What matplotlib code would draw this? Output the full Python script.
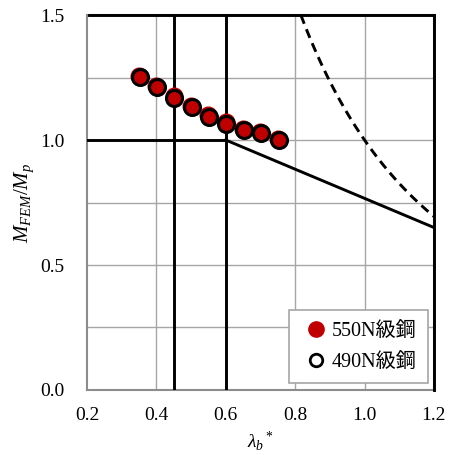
import matplotlib
matplotlib.use("Agg")
import matplotlib.pyplot as plt
import numpy as np

plt.rcParams['font.family'] = ['Liberation Serif', 'Noto Sans CJK JP']
plt.rcParams['mathtext.fontset'] = 'custom'
plt.rcParams['mathtext.rm'] = 'Liberation Serif'
plt.rcParams['mathtext.it'] = 'Liberation Serif:italic'

# data
lam_550 = [0.35, 0.40, 0.45, 0.50, 0.55, 0.60, 0.65, 0.70, 0.75]
m_550 = [1.258, 1.216, 1.175, 1.135, 1.099, 1.071, 1.046, 1.031, 1.006]
lam_490 = [0.352, 0.402, 0.452, 0.502, 0.552, 0.602, 0.652, 0.702, 0.752]
m_490 = [1.254, 1.212, 1.170, 1.131, 1.094, 1.066, 1.042, 1.027, 1.002]

plateau_x = [0.2, 0.6]
plateau_y = [1.0, 1.0]
slope_x = [0.6, 1.2]
slope_y = [1.0, 0.65]
vlines_x = [0.45, 0.6]
elastic_lam = np.linspace(1/np.sqrt(1.5), 1.2, 100)
elastic_m = 1.0 / elastic_lam**2

fig = plt.figure(figsize=(4.52, 4.55), dpi=100)
ax = fig.add_axes([0.1925, 0.1429, 0.7675, 0.824])
ax.set_xlim(0.2, 1.2)
ax.set_ylim(0.0, 1.5)

for x in [0.4, 0.6, 0.8, 1.0]:
    ax.axvline(x, color='#a6a6a6', lw=1.0, zorder=1)
for y in [0.25, 0.5, 0.75, 1.0, 1.25]:
    ax.axhline(y, color='#a6a6a6', lw=1.0, zorder=1)

for s in ax.spines.values():
    s.set_color('#8c8c8c')
    s.set_linewidth(1.5)

lw = 2.1
ax.plot([0.205, 1.2], [1.5, 1.5], color='black', lw=lw, zorder=3, clip_on=False)
ax.plot([1.2, 1.2], [0.0, 1.5], color='black', lw=lw, zorder=3, clip_on=False)
for x in vlines_x:
    ax.plot([x, x], [0.0, 1.5], color='black', lw=lw, zorder=3)
ax.plot(plateau_x, plateau_y, color='black', lw=lw, zorder=3)
ax.plot(slope_x, slope_y, color='black', lw=lw, zorder=3)
ax.plot(elastic_lam, elastic_m, color='black', lw=lw, ls=(0, (3.2, 2.0)), zorder=3)

ax.plot(lam_550, m_550, 'o', ms=11.5, mfc='#c00000', mec='#c00000', mew=1.5,
        zorder=4, label='550N級鋼', ls='none')
ax.plot(lam_490, m_490, 'o', ms=11.5, mfc='none', mec='black', mew=2.2,
        zorder=5, label='490N級鋼', ls='none')

ax.set_xticks([0.2, 0.4, 0.6, 0.8, 1.0, 1.2])
ax.set_xticklabels(['0.2', '0.4', '0.6', '0.8', '1.0', '1.2'])
ax.set_yticks([0.0, 0.5, 1.0, 1.5])
ax.set_yticklabels(['0.0', '0.5', '1.0', '1.5'])
ax.tick_params(length=0, labelsize=14, colors='black')
ax.tick_params(axis='x', pad=12)
ax.tick_params(axis='y', pad=16)

ax.set_xlabel(r'$\lambda_b$$^*$', fontsize=14, labelpad=4)
ax.set_ylabel(r'$M_{FEM}/M_p$', fontsize=15, labelpad=3)

# legend handles
h1 = plt.Line2D([], [], marker='o', ls='none', ms=11, mfc='#c00000', mec='#c00000')
h2 = plt.Line2D([], [], marker='o', ls='none', ms=9, mfc='white', mec='black', mew=2)
leg = ax.legend([h1, h2], ['550N級鋼', '490N級鋼'], loc='lower right',
                bbox_to_anchor=(0.983, 0.019), fontsize=14.5, frameon=True,
                fancybox=False, edgecolor='#a6a6a6', framealpha=1,
                handletextpad=0.0, handlelength=1.6, borderpad=0.55,
                borderaxespad=0.0, labelspacing=0.6)
leg.get_frame().set_linewidth(1.2)
leg.set_zorder(6)

fig.savefig('out.png', dpi=100)
